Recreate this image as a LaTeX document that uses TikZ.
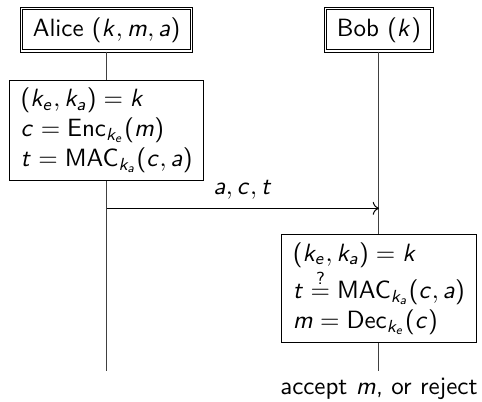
\documentclass[tikz,border=0pt]{standalone}
\renewcommand{\familydefault}{\sfdefault}
\SetSymbolFont{operators}{normal}{OT1}{cmss}{m}{n}
\DeclareSymbolFont{sfletters}{OT1}{cmss}{m}{sl}
\DeclareMathSymbol{a}{\mathalpha}{sfletters}{`a}
\DeclareMathSymbol{c}{\mathalpha}{sfletters}{`c}
\DeclareMathSymbol{e}{\mathalpha}{sfletters}{`e}
\DeclareMathSymbol{k}{\mathalpha}{sfletters}{`k}
\DeclareMathSymbol{m}{\mathalpha}{sfletters}{`m}
\DeclareMathSymbol{t}{\mathalpha}{sfletters}{`t}
\usetikzlibrary{arrows.meta}

\tikzset{
  party/.style={draw, double, inner xsep=4.5pt, inner ysep=3.5pt, fill=white},
  calcbox/.style={draw, align=left, inner xsep=4.5pt, inner ysep=3pt, fill=white},
  lifeline/.style={draw=black!75},
  msg/.style={->, black}
}

\begin{document}
\begin{tikzpicture}
\useasboundingbox (0,0) rectangle (6.78,-5.65);

\node[party] (alice) at (1.50,-0.42) {Alice $(k,m,a)$};
\node[party] (bob) at (5.33,-0.42) {Bob $(k)$};

\node[calcbox] (alicecalc) at (1.50,-1.83) {$(k_e,k_a)=k$\\ $c=\mathsf{Enc}_{k_e}(m)$\\ $t=\mathsf{MAC}_{k_a}(c,a)$};
\node[calcbox] (bobcalc) at (5.33,-4.06) {$(k_e,k_a)=k$\\ $t\stackrel{?}{=}\mathsf{MAC}_{k_a}(c,a)$\\ $m=\mathsf{Dec}_{k_e}(c)$};

\coordinate (aliceend) at (1.50,-5.22);
\coordinate (bobend) at (5.33,-5.22);
\coordinate (send) at (1.50,-2.93);
\coordinate (recv) at (5.33,-2.93);

% lifelines
\draw[lifeline] (alice) -- (alicecalc);
\draw[lifeline] (alicecalc) -- (aliceend);
\draw[lifeline] (bob) -- (bobcalc);
\draw[lifeline] (bobcalc) -- (bobend);

% message
\draw[msg] (send) -- (recv) node[midway, above] (msglabel) {$a,c,t$};

\node[anchor=base] (accept) at (5.33,-5.55) {accept $m$, or reject};

\end{tikzpicture}
\end{document}
